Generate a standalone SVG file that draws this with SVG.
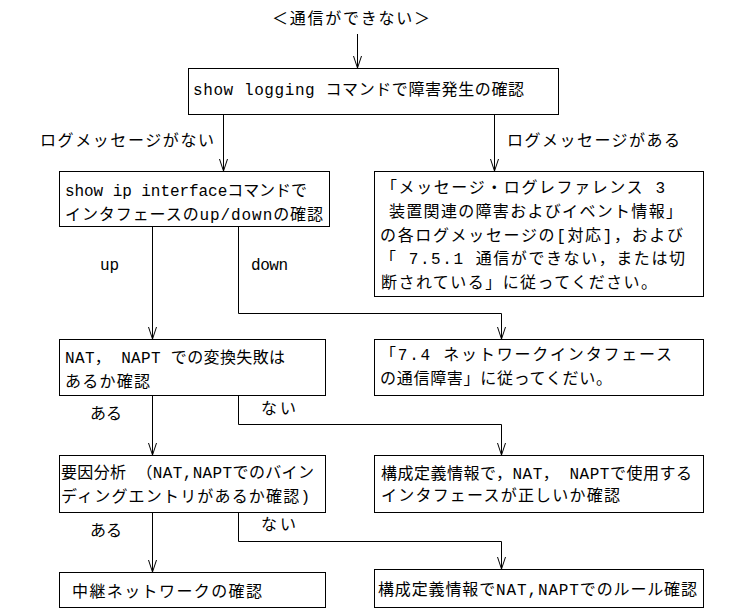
<svg xmlns="http://www.w3.org/2000/svg" width="731" height="612" viewBox="0 0 731 612">
<style>
  text { font-family: "Liberation Mono", "Noto Sans CJK JP", monospace; font-size: 16px; fill: #000; }
  .box { fill: #fff; stroke: #000; stroke-width: 1; }
  .ln { fill: none; stroke: #000; stroke-width: 1; }
</style>
<defs>
  <marker id="arr" viewBox="-13 -5 14 10" refX="0" refY="0" markerWidth="14" markerHeight="10" markerUnits="userSpaceOnUse" orient="auto">
    <path d="M-12,-4 L0,0 L-12,4" fill="none" stroke="#000" stroke-width="1"/>
  </marker>
</defs>
<rect width="731" height="612" fill="#fff"/>

<g id="connectors">
  <path class="ln" d="M357.5,34 V68" marker-end="url(#arr)"/>
  <path class="ln" d="M223.5,115 V171" marker-end="url(#arr)"/>
  <path class="ln" d="M494.5,115 V171" marker-end="url(#arr)"/>
  <path class="ln" d="M152.5,227 V339" marker-end="url(#arr)"/>
  <path class="ln" d="M238.5,227 V313.5 H501.5 V339" marker-end="url(#arr)"/>
  <path class="ln" d="M152.5,396 V455" marker-end="url(#arr)"/>
  <path class="ln" d="M238.5,396 V424.5 H501.5 V455" marker-end="url(#arr)"/>
  <path class="ln" d="M152.5,513 V572" marker-end="url(#arr)"/>
  <path class="ln" d="M238.5,513 V541.5 H501.5 V569" marker-end="url(#arr)"/>
  <text x="40" y="146" textLength="174" lengthAdjust="spacing">ログメッセージがない</text>
  <text x="507" y="146" textLength="173" lengthAdjust="spacing">ログメッセージがある</text>
  <text x="100" y="270">up</text>
  <text x="251" y="270" textLength="37" lengthAdjust="spacing">down</text>
  <text x="90" y="419" textLength="32" lengthAdjust="spacing">ある</text>
  <text x="261" y="414" textLength="35" lengthAdjust="spacing">ない</text>
  <text x="90" y="536" textLength="32" lengthAdjust="spacing">ある</text>
  <text x="261" y="530" textLength="35" lengthAdjust="spacing">ない</text>
</g>

<g id="start">
  <text x="272" y="24" textLength="158" lengthAdjust="spacing">＜通信ができない＞</text>
</g>

<g id="n1">
  <rect class="box" x="188.5" y="68.5" width="370" height="46"/>
  <text x="193" y="95" textLength="331" lengthAdjust="spacing">show logging  コマンドで障害発生の確認</text>
</g>

<g id="n2">
  <rect class="box" x="59.5" y="171.5" width="270" height="55"/>
  <text x="65" y="196" textLength="242" lengthAdjust="spacing">show ip interfaceコマンドで</text>
  <text x="65" y="220" textLength="258" lengthAdjust="spacing">インタフェースのup/downの確認</text>
</g>

<g id="n3">
  <rect class="box" x="374.5" y="171.5" width="329" height="125"/>
  <text x="381" y="193" textLength="284" lengthAdjust="spacing">「メッセージ・ログレファレンス 3</text>
  <text x="389" y="217" textLength="293" lengthAdjust="spacing">装置関連の障害およびイベント情報」</text>
  <text x="380" y="241" textLength="303" lengthAdjust="spacing">の各ログメッセージの[対応]，および</text>
  <text x="380" y="264" textLength="305" lengthAdjust="spacing">「 7.5.1  通信ができない，または切</text>
  <text x="381" y="288" textLength="276" lengthAdjust="spacing">断されている」に従ってください。</text>
</g>

<g id="n4">
  <rect class="box" x="59.5" y="339.5" width="266" height="56"/>
  <text x="65" y="363" textLength="220" lengthAdjust="spacing">NAT， NAPT での変換失敗は</text>
  <text x="65" y="387" textLength="85" lengthAdjust="spacing">あるか確認</text>
</g>

<g id="n5">
  <rect class="box" x="374.5" y="339.5" width="329" height="56"/>
  <text x="380" y="360" textLength="292" lengthAdjust="spacing">「7.4 ネットワークインタフェース</text>
  <text x="380" y="384" textLength="232" lengthAdjust="spacing">の通信障害」に従ってくだい。</text>
</g>

<g id="n6">
  <rect class="box" x="59.5" y="455.5" width="266" height="57"/>
  <text x="61" y="478" textLength="253" lengthAdjust="spacing">要因分析 （NAT,NAPTでのバイン</text>
  <text x="61" y="502" textLength="249" lengthAdjust="spacing">ディングエントリがあるか確認)</text>
</g>

<g id="n7">
  <rect class="box" x="374.5" y="455.5" width="329" height="57"/>
  <text x="381" y="479" textLength="311" lengthAdjust="spacing">構成定義情報で，NAT， NAPTで使用する</text>
  <text x="381" y="501" textLength="239" lengthAdjust="spacing">インタフェースが正しいか確認</text>
</g>

<g id="n8">
  <rect class="box" x="59.5" y="572.5" width="266" height="35"/>
  <text x="72" y="597" textLength="190" lengthAdjust="spacing">中継ネットワークの確認</text>
</g>

<g id="n9">
  <rect class="box" x="374.5" y="569.5" width="329" height="38"/>
  <text x="378" y="595" textLength="319" lengthAdjust="spacing">構成定義情報でNAT,NAPTでのルール確認</text>
</g>
</svg>
